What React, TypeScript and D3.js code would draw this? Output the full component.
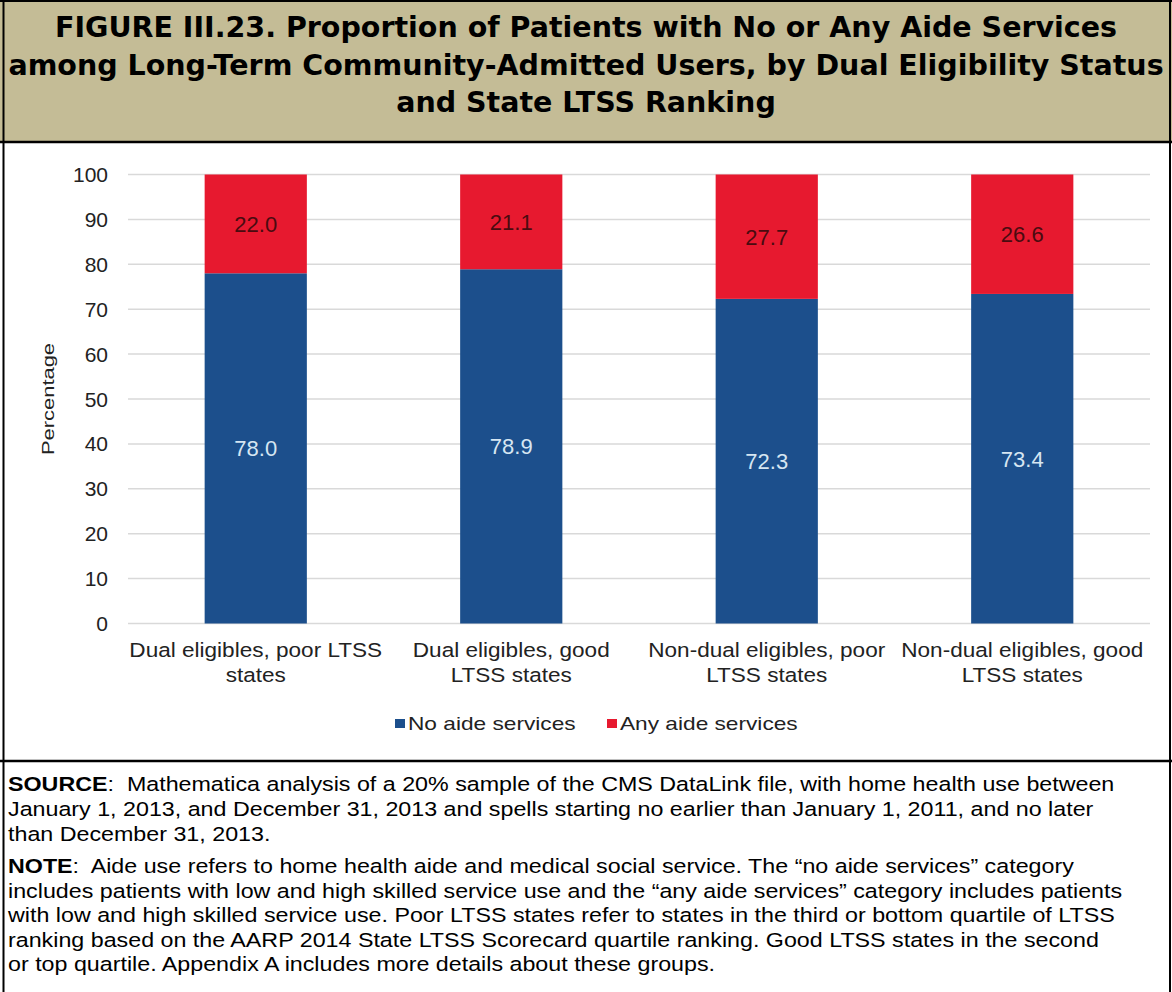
import React from 'react';
import * as d3 from 'd3';

// Chart data
const categories = [
  ['Dual eligibles, poor LTSS', 'states'],
  ['Dual eligibles, good', 'LTSS states'],
  ['Non-dual eligibles, poor', 'LTSS states'],
  ['Non-dual eligibles, good', 'LTSS states'],
];
const noAide = [78.0, 78.9, 72.3, 73.4];
const anyAide = [22.0, 21.1, 27.7, 26.6];
const seriesNames = ['No aide services', 'Any aide services'];
const yTicks = [0, 10, 20, 30, 40, 50, 60, 70, 80, 90, 100];

const titleLines = [
  'FIGURE III.23. Proportion of Patients with No or Any Aide Services',
  'among Long-Term Community-Admitted Users, by Dual Eligibility Status',
  'and State LTSS Ranking',
];

const sourceLines = [
  '  Mathematica analysis of a 20% sample of the CMS DataLink file, with home health use between',
  'January 1, 2013, and December 31, 2013 and spells starting no earlier than January 1, 2011, and no later',
  'than December 31, 2013.',
];
const noteLines = [
  '  Aide use refers to home health aide and medical social service. The \u201cno aide services\u201d category',
  'includes patients with low and high skilled service use and the \u201cany aide services\u201d category includes patients',
  'with low and high skilled service use. Poor LTSS states refer to states in the third or bottom quartile of LTSS',
  'ranking based on the AARP 2014 State LTSS Scorecard quartile ranking. Good LTSS states in the second',
  'or top quartile. Appendix A includes more details about these groups.',
];

const W = 1172;
const H = 992;
const BLUE = '#1c4f8c';
const RED = '#e7192f';
const TAN = '#c4bc96';
const FONT = 'Liberation Sans, Arial, sans-serif';

// text drawn around its anchor and stretched horizontally by sx
const SText: React.FC<{
  x: number; y: number; sx?: number; size: number; anchor?: string;
  fill?: string; weight?: string; rotate?: number; children: React.ReactNode;
}> = ({ x, y, sx = 1, size, anchor = 'start', fill = '#222', weight, rotate, children }) => (
  <text
    transform={`translate(${x},${y})${rotate ? ` rotate(${rotate})` : ''} scale(${sx},1)`}
    textAnchor={anchor} fontFamily={FONT} fontSize={size} fill={fill} fontWeight={weight}
    style={{ whiteSpace: 'pre' }}>
    {children}
  </text>
);

const App: React.FC = () => {
  const plot = { left: 128, right: 1150, top: 174.5, bottom: 623.5 };

  const x = d3.scaleBand<number>()
    .domain(d3.range(categories.length))
    .range([plot.left, plot.right])
    .paddingInner(0.6)
    .paddingOuter(0.3);
  const y = d3.scaleLinear().domain([0, 100]).range([plot.bottom, plot.top]);

  return (
    <svg width={W} height={H} style={{ display: 'block' }}>
      <style>{`body{margin:0}`}</style>
      <rect x={0} y={0} width={W} height={H} fill="#fff" />

      {/* title band */}
      <rect x={0} y={0} width={W} height={142} fill={TAN} />
      {titleLines.map((t, i) => (
        <text key={i} x={W / 2} y={37 + i * 37.5} textAnchor="middle"
          fontFamily="DejaVu Sans, sans-serif" fontWeight="bold" fontSize={28.5} fill="#000">
          {t}
        </text>
      ))}

      {/* gridlines and y axis */}
      {yTicks.map(t => (
        <line key={t} x1={plot.left} x2={plot.right} y1={y(t)} y2={y(t)}
          stroke="#d9d9d9" strokeWidth={1.5} />
      ))}
      {yTicks.map(t => (
        <SText key={'l' + t} x={108} y={y(t) + 7.5} size={21} anchor="end">{t}</SText>
      ))}
      <SText x={54} y={y(50)} size={17} sx={1.29} rotate={-90} anchor="middle">Percentage</SText>

      {/* bars */}
      {categories.map((_, i) => {
        const bx = x(i)!;
        const bw = x.bandwidth();
        const b0 = noAide[i];
        const b1 = noAide[i] + anyAide[i];
        return (
          <g key={i}>
            <rect x={bx} y={y(b0)} width={bw} height={y(0) - y(b0)} fill={BLUE} />
            <rect x={bx} y={y(b1)} width={bw} height={y(b0) - y(b1)} fill={RED} />
            <SText x={bx + bw / 2} y={y(b0 / 2) + 8} size={22} anchor="middle" fill="#d6e6f2">
              {noAide[i].toFixed(1)}
            </SText>
            <SText x={bx + bw / 2} y={y(b0 + anyAide[i] / 2) + 8} size={22} anchor="middle" fill="#4a0b10">
              {anyAide[i].toFixed(1)}
            </SText>
          </g>
        );
      })}

      {/* category labels */}
      {categories.map((lines, i) => (
        <g key={'c' + i}>
          {lines.map((l, j) => (
            <SText key={j} x={x(i)! + x.bandwidth() / 2} y={657 + j * 25} size={19.5} sx={1.157}
              anchor="middle">{l}</SText>
          ))}
        </g>
      ))}

      {/* legend */}
      <rect x={395} y={719} width={10} height={9} fill={BLUE} />
      <SText x={408} y={730} size={18} sx={1.26}>{seriesNames[0]}</SText>
      <rect x={607} y={719} width={10} height={9} fill={RED} />
      <SText x={620} y={730} size={18} sx={1.26}>{seriesNames[1]}</SText>

      {/* notes */}
      <SText x={8} y={791} size={19.5} sx={1.193} fill="#000">
        <tspan fontWeight="bold">SOURCE</tspan>:{sourceLines[0]}
      </SText>
      {sourceLines.slice(1).map((l, i) => (
        <SText key={'s' + i} x={8} y={816 + i * 25} size={19.5} sx={1.193} fill="#000">{l}</SText>
      ))}
      <SText x={8} y={873} size={19.5} sx={1.193} fill="#000">
        <tspan fontWeight="bold">NOTE</tspan>:{noteLines[0]}
      </SText>
      {noteLines.slice(1).map((l, i) => (
        <SText key={'n' + i} x={8} y={898 + i * 24.3} size={19.5} sx={1.193} fill="#000">{l}</SText>
      ))}

      {/* frame lines */}
      <line x1={0} x2={W} y1={142} y2={142} stroke="#000" strokeWidth={2.5} />
      <line x1={0} x2={W} y1={761} y2={761} stroke="#000" strokeWidth={2.5} />
      <line x1={0} x2={W} y1={1} y2={1} stroke="#000" strokeWidth={2} />
      <line x1={3.5} x2={3.5} y1={0} y2={H} stroke="#000" strokeWidth={2} />
      <line x1={W - 2} x2={W - 2} y1={0} y2={H} stroke="#000" strokeWidth={2} />
    </svg>
  );
};

export default App;
